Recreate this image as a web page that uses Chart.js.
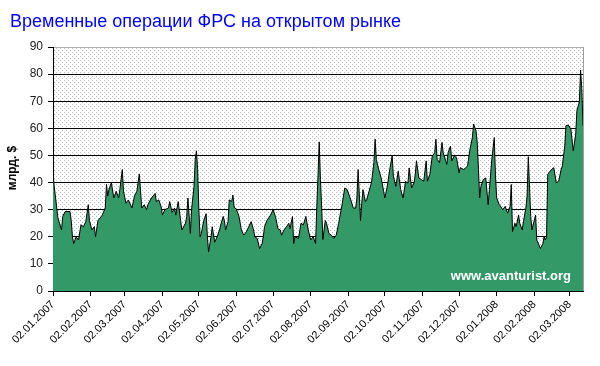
<!DOCTYPE html>
<html>
<head>
<meta charset="utf-8">
<script src="https://cdn.jsdelivr.net/npm/chart.js@4.4.1/dist/chart.umd.min.js"></script>
<style>
  html, body { margin: 0; padding: 0; background: #fff; }
</style>
</head>
<body>
<canvas id="chart" width="600" height="366"></canvas>
<script>
const titleText = "Временные операции ФРС на открытом рынке";
const yLabel = "млрд. $";
const watermark = "www.avanturist.org";
const startDate = "02.01.2007";

const tickLabels = [
  "02.01.2007", "02.02.2007", "02.03.2007", "02.04.2007", "02.05.2007",
  "02.06.2007", "02.07.2007", "02.08.2007", "02.09.2007", "02.10.2007",
  "02.11.2007", "02.12.2007", "02.01.2008", "02.02.2008", "02.03.2008"
];

// days after 02.01.2007
const days = [
  0, 1, 3, 4, 7, 8, 10, 14, 15, 16,
  17, 19, 21, 23, 25, 27, 29, 30, 32, 34,
  35, 37, 40, 43, 44, 45, 46, 48, 50, 52,
  54, 55, 57, 58, 60, 62, 65, 67, 69, 71,
  72, 73, 75, 77, 78, 81, 84, 85, 87, 89,
  90, 92, 95, 96, 98, 100, 101, 103, 105, 106,
  109, 110, 111, 113, 114, 116, 117, 118, 119, 120,
  121, 122, 124, 126, 127, 128, 130, 131, 133, 135,
  137, 138, 140, 141, 142, 144, 145, 147, 148, 149,
  151, 153, 155, 157, 159, 161, 163, 165, 166, 168,
  170, 172, 173, 174, 176, 179, 181, 183, 185, 187,
  188, 190, 192, 194, 195, 197, 198, 199, 202, 204,
  206, 208, 210, 212, 214, 216, 217, 218, 219, 220,
  221, 222, 224, 225, 227, 229, 231, 233, 235, 238,
  240, 242, 245, 247, 249, 250, 251, 253, 254, 255,
  257, 258, 260, 262, 264, 265, 266, 268, 270, 272,
  273, 275, 277, 279, 280, 282, 284, 286, 288, 290,
  292, 293, 295, 297, 298, 299, 301, 303, 305, 307,
  308, 310, 312, 314, 315, 316, 318, 320, 321, 324,
  325, 327, 328, 330, 332, 334, 335, 338, 341, 343,
  345, 346, 348, 349, 350, 351, 352, 354, 356, 358,
  359, 361, 363, 364, 365, 367, 370, 372, 374, 376,
  377, 378, 380, 381, 383, 384, 386, 387, 389, 390,
  391, 393, 394, 395, 397, 398, 401, 403, 404, 405,
  406, 407, 410, 412, 414, 416, 418, 419, 421, 422,
  424, 426, 428, 430, 431, 433, 434, 435, 436
];

const values = [
  44, 38.6, 31, 27, 22.5, 27.5, 29.3, 29.3, 26, 20,
  17.5, 20, 18.8, 24.4, 23.7, 25.6, 31.8, 26, 22.5, 23.7,
  20, 26, 27.5, 30.6, 39.3, 35, 37.4, 40, 34.3, 36.8,
  34.3, 37.4, 44.8, 36.8, 32.4, 33.6, 30.6, 35, 36.8, 43.2,
  37, 30.6, 31.8, 30, 31.8, 34.3, 36, 33, 33.6, 31,
  28, 30, 30.6, 33, 29, 30.6, 28, 33, 26, 22.5,
  25, 27.5, 34.3, 21.2, 30, 38.6, 48.5, 51.7, 44.8, 30,
  20, 21.2, 26, 28.5, 20, 14.4, 20, 23.7, 18, 20,
  22.5, 24.4, 27.5, 26, 22.5, 25.6, 33.6, 33, 35.4, 31,
  30, 27.5, 22.5, 20.6, 21.8, 23.7, 25.6, 22.5, 20, 19.4,
  15.6, 17.5, 20, 23.7, 26, 28, 30, 27.5, 23, 22.5,
  20.6, 22.5, 23.7, 25, 23, 27.5, 17.5, 20, 19.4, 25,
  24.4, 27.5, 22.5, 18.8, 20, 17.5, 31, 42.5, 55, 41.2,
  31, 19, 26, 25, 21.2, 20.6, 19.4, 20.6, 25, 32.4,
  38, 37.4, 33.6, 30.6, 30.6, 34.3, 44.8, 26, 32.4, 37.4,
  33, 33.6, 36.8, 40, 47.5, 56, 48.5, 44.8, 41.6, 36.8,
  34.3, 38.6, 44.8, 49.8, 42.4, 38.6, 44.2, 37.4, 34.3, 40.4,
  39.8, 45.4, 38, 39.9, 43, 48, 41.7, 41.1, 40.5, 48,
  40.5, 43, 49.8, 51, 56, 48.6, 47.3, 54.8, 51, 46.7,
  51, 53.5, 48, 49.8, 49.2, 43.6, 45.5, 44.8, 46.1, 52.3,
  56.6, 61.6, 59.1, 54.8, 44.8, 34.3, 38.6, 41.1, 41.7, 31.8,
  37.4, 48.6, 56.6, 42.4, 34.3, 32, 30, 31.2, 28.7, 31.2,
  39.3, 21.9, 25, 23.7, 28, 25, 22.5, 25.6, 30.6, 35,
  49.5, 27.5, 22.5, 24.4, 28, 18.8, 15.7, 17.5, 20, 18.8,
  20, 43, 44.8, 45.5, 39.9, 40.5, 44.8, 46.1, 53.5, 61,
  61.2, 59.7, 51.7, 57.9, 66.6, 69.7, 81.5, 74.7, 61
];

const toDay = s => {
  const [d, m, y] = s.split(".").map(Number);
  const [d0, m0, y0] = startDate.split(".").map(Number);
  return Math.round((Date.UTC(y, m - 1, d) - Date.UTC(y0, m0 - 1, d0)) / 86400000);
};
const tickDays = tickLabels.map(toDay);

const font = '"Liberation Sans", Arial, sans-serif';

// Excel-like dotted plot background
const pc = document.createElement("canvas");
pc.width = 4;
pc.height = 4;
const pctx = pc.getContext("2d");
pctx.fillStyle = "#fff";
pctx.fillRect(0, 0, 4, 4);
pctx.fillStyle = "#b8b8b8";
pctx.fillRect(0, 0, 1, 1);
pctx.fillRect(2, 2, 1, 1);

const decor = {
  id: "decor",
  beforeDraw(chart) {
    const { ctx, chartArea: a } = chart;
    ctx.save();
    ctx.fillStyle = ctx.createPattern(pc, "repeat");
    ctx.fillRect(a.left, a.top, a.right - a.left, a.bottom - a.top);
    ctx.restore();
  },
  afterDraw(chart) {
    const { ctx, chartArea: a } = chart;
    ctx.save();
    // right border
    ctx.strokeStyle = "#a0a0a0";
    ctx.lineWidth = 1;
    ctx.beginPath();
    ctx.moveTo(Math.round(a.right) + 0.5, a.top);
    ctx.lineTo(Math.round(a.right) + 0.5, a.bottom);
    ctx.stroke();

    ctx.fillStyle = "#0000ff";
    ctx.font = "18px " + font;
    ctx.textBaseline = "alphabetic";
    ctx.fillText(titleText, 10, 27);

    ctx.fillStyle = "#000";
    ctx.font = "bold 12px " + font;
    ctx.textAlign = "center";
    ctx.textBaseline = "middle";
    ctx.translate(13, 168);
    ctx.rotate(-Math.PI / 2);
    ctx.fillText(yLabel, 0, 0);
    ctx.restore();

    ctx.save();
    ctx.fillStyle = "#fff";
    ctx.font = "bold 13px " + font;
    ctx.textAlign = "right";
    ctx.textBaseline = "middle";
    ctx.fillText(watermark, 571, 276);
    ctx.restore();
  }
};

new Chart(document.getElementById("chart"), {
  type: "line",
  data: {
    datasets: [{
      data: days.map((d, i) => ({ x: d, y: values[i] })),
      borderColor: "#000",
      borderWidth: 1,
      backgroundColor: "#339966",
      fill: "origin",
      pointRadius: 0,
      tension: 0
    }]
  },
  options: {
    responsive: false,
    animation: false,
    layout: { padding: { top: 47, right: 17, left: 0, bottom: 0 } },
    plugins: { legend: { display: false }, tooltip: { enabled: false } },
    scales: {
      x: {
        type: "linear",
        min: 0,
        max: 436,
        afterBuildTicks: scale => {
          scale.ticks = tickDays.map(v => ({ value: v }));
        },
        afterFit: scale => { scale.height = 75; },
        ticks: {
          autoSkip: false,
          maxRotation: 45,
          minRotation: 45,
          padding: 2,
          color: "#000",
          font: { family: font, size: 11 },
          callback: (v, i) => tickLabels[i]
        },
        grid: { drawOnChartArea: false, drawTicks: true, tickLength: 5, color: "#000" },
        border: { color: "#000" }
      },
      y: {
        min: 0,
        max: 90,
        afterFit: scale => { scale.width = 53; },
        ticks: {
          stepSize: 10,
          padding: 5,
          color: "#222",
          font: { family: font, size: 12 }
        },
        grid: {
          color: c => (c.tick && c.tick.value === 90 ? "#b0b0b0" : "#000"),
          tickColor: "#000",
          tickLength: 5
        },
        border: { color: "#000" }
      }
    }
  },
  plugins: [decor]
});
</script>
</body>
</html>
